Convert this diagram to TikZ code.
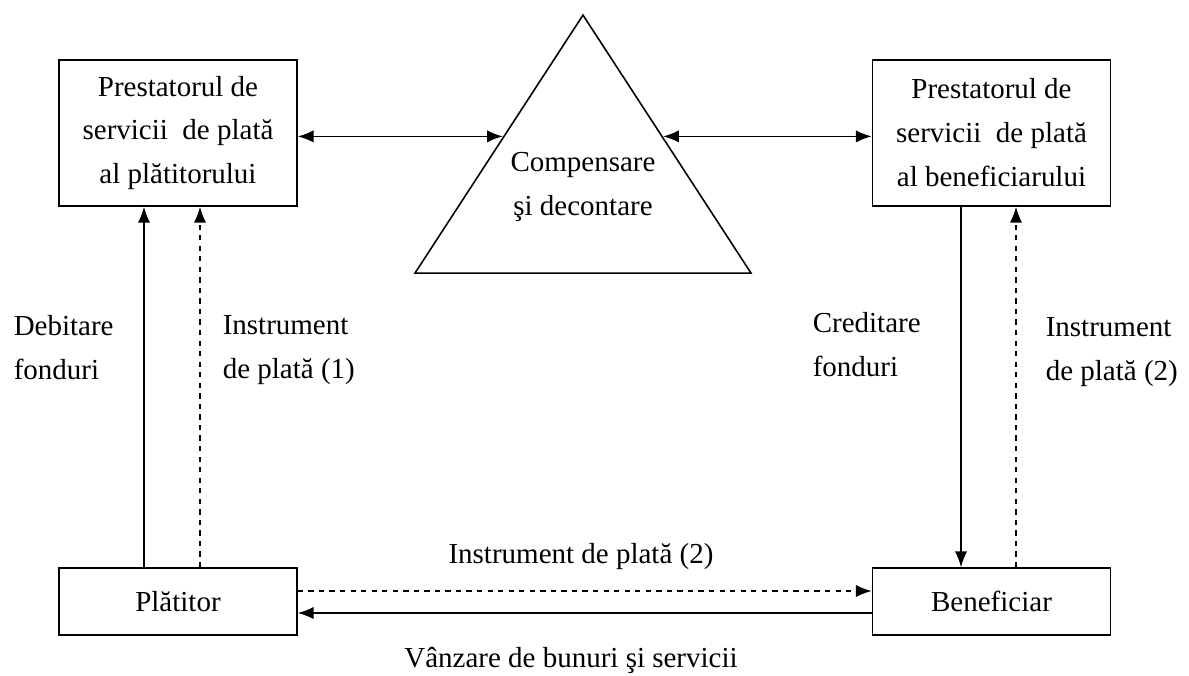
\documentclass[tikz,border=0pt]{standalone}
\usepackage{fontspec}
\setmainfont{Liberation Serif}
\usetikzlibrary{positioning,shapes.geometric,arrows.meta,calc}
\tikzset{>={Latex[length=9pt,width=7pt]}}

\begin{document}
\begin{tikzpicture}[font=\fontsize{16.5}{25}\selectfont, line width=0.9pt]
      \useasboundingbox (0,0) rectangle (23.78,-13.5);
      \node[draw, rectangle, minimum width=4.76cm, minimum height=2.92cm, align=center] (n0) at (3.56,-2.66) {Prestatorul de\\servicii \ de plată\\al plătitorului};
      \node[draw, rectangle, right of=n0, node distance=16.27cm, minimum width=4.76cm, minimum height=2.92cm, align=center] (nx) {Prestatorul de\\servicii \ de plată\\al beneficiarului};
      \node[draw, rectangle, below of=n0, node distance=9.37cm, minimum width=4.76cm, minimum height=1.34cm] (n3) {Plătitor};
      \node[draw, rectangle, below of=nx, node distance=9.37cm, minimum width=4.76cm, minimum height=1.34cm] (n4) {Beneficiar};
      \node[draw, isosceles triangle, isosceles triangle stretches, shape border rotate=90, minimum width=6.72cm, minimum height=5.16cm, inner sep=0pt, anchor=apex] (tri) at (11.66,-0.26) {};
      \node[align=center] (n1) at ($(tri.apex)!0.667!(tri.lower side)$) {Compensare\\şi decontare};
      \coordinate (aux1) at ($(tri.apex)!0.473!(tri.left corner)$);
      \coordinate (aux2) at ($(tri.apex)!0.473!(tri.right corner)$);
      \draw[<->] (n0.east |- aux1) -- (aux1);
      \draw[<->] (aux2) -- (nx.west |- aux2);
      \draw[->] ([xshift=-0.68cm]n3.north) -- ([xshift=-0.68cm]n0.south);
      \draw[->, dashed] ([xshift=0.44cm]n3.north) -- ([xshift=0.44cm]n0.south);
      \draw[->] ([xshift=-0.61cm]nx.south) -- ([xshift=-0.61cm]n4.north);
      \draw[->, dashed] ([xshift=0.49cm]n4.north) -- ([xshift=0.49cm]nx.south);
      \draw[->, dashed] ([yshift=0.21cm]n3.east) -- ([yshift=0.21cm]n4.west);
      \draw[->] ([yshift=-0.23cm]n4.west) -- ([yshift=-0.23cm]n3.east);
      \node[anchor=west, align=left, inner sep=0pt] (l1) at (0.26,-6.95) {Debitare\\fonduri};
      \node[anchor=west, align=left, inner sep=0pt] (l2) at (4.44,-7.01) {Instrument\\de plată (1)};
      \node[anchor=west, align=left, inner sep=0pt] (l3) at (16.24,-6.9) {Creditare\\fonduri};
      \node[anchor=west, align=left, inner sep=0pt] (l4) at (20.9,-7.05) {Instrument\\de plată (2)};
      \node[anchor=base] (l5) at (11.62,-11.26) {Instrument de plată (2)};
      \node[anchor=base] (l6) at (11.42,-13.34) {Vânzare de bunuri şi servicii};
    \end{tikzpicture}
\end{document}
